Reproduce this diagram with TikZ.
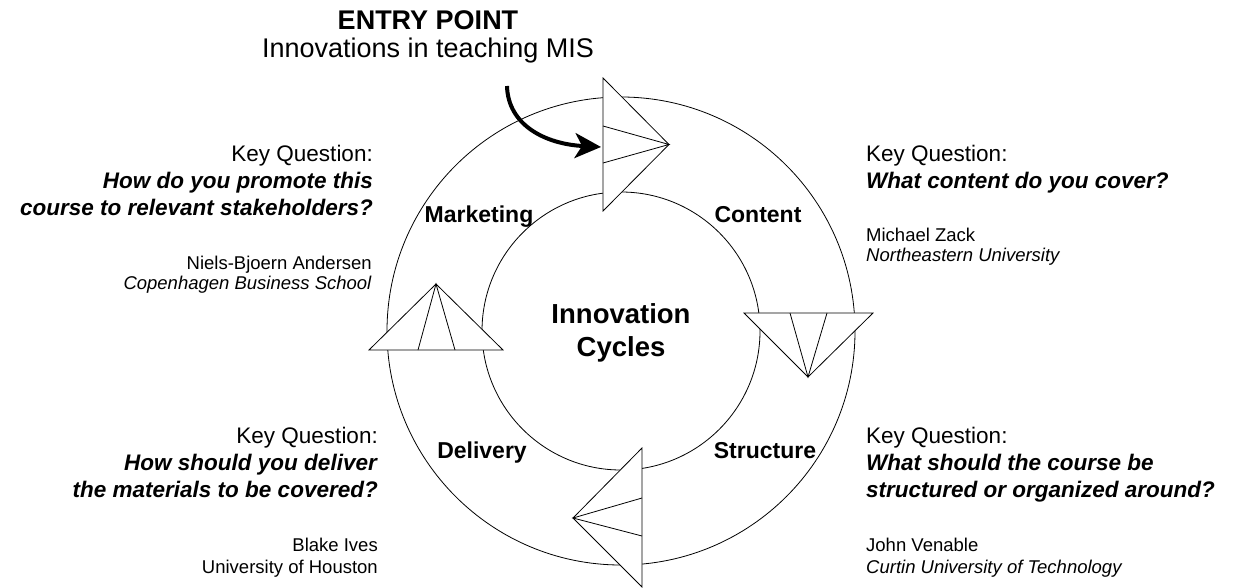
\documentclass[tikz,border=0pt]{standalone}
\usepackage{fontspec}
\setmainfont{Liberation Sans}
\usetikzlibrary{arrows.meta}
\tikzstyle{keyText}=[inner sep = 0pt, font = \fontsize{22.5}{27}\selectfont]
\tikzstyle{nameText}=[inner sep = 0pt, font = \fontsize{18.5}{19.5}\selectfont]
\tikzstyle{phaseText}=[inner sep = 0pt, font = \fontsize{23}{27}\selectfont\bfseries]
\tikzstyle{titleText}=[inner sep = 0pt, align = center, font = \fontsize{27}{28}\selectfont]

\begin{document}
\begin{tikzpicture}[x = 1pt, y = -1pt]
\tikzstyle{ringStyle}=[line width = 0.8pt]
\tikzstyle{headStyle}=[draw, line width = 0.8pt, fill = white]
\tikzstyle{innerStyle}=[line width = 0.8pt]
\tikzstyle{entryStyle}=[line width = 4pt, -{Stealth[length = 26pt, width = 25pt, inset = 7pt]}]
\useasboundingbox (0,0) rectangle (1233,588);
\coordinate (hub) at (621,331);
\draw[ringStyle] (hub) circle [radius = 234pt];
\draw[ringStyle] (hub) circle [radius = 139pt];
\draw[headStyle] (603,78) -- (669,144.5) -- (603,211) -- cycle;
\draw[innerStyle] (603,126) -- (669,144.5) -- (603,163);
\draw[headStyle] (744,313) -- (808,377) -- (873,313) -- cycle;
\draw[innerStyle] (790,313) -- (808,377) -- (827,313);
\draw[headStyle] (642,448) -- (573,518) -- (642,587) -- cycle;
\draw[innerStyle] (642,498) -- (573,518) -- (642,536);
\draw[headStyle] (369,350) -- (436,284) -- (503,350) -- cycle;
\draw[innerStyle] (418,350) -- (436,284) -- (455,350);
\node[titleText, anchor = north] (entry) at (428,10) {\textbf{ENTRY POINT}\\Innovations in teaching MIS};
\coordinate (entryStart) at (507,86);
\coordinate (entryEnd) at (601,147);
\draw[entryStyle] (entryStart) .. controls (508,125) and (545,144) .. (entryEnd);
\node[titleText, font = \fontsize{27.5}{33.5}\selectfont\bfseries] (cycles) at (621,333) {Innovation\\Cycles};
\node[phaseText, anchor = base] (pMarketing) at (479,222) {Marketing};
\node[phaseText, anchor = base] (pContent) at (758,222) {Content};
\node[phaseText, anchor = base] (pDelivery) at (482,458) {Delivery};
\node[phaseText, anchor = base] (pStructure) at (765,458) {Structure};
\node[keyText, anchor = north east, align = right] (qMarketing) at (373,145) {Key Question:\\\textbf{\textit{How do you promote this}}\\\textbf{\textit{course to relevant stakeholders?}}};
\node[keyText, anchor = north west, align = left] (qContent) at (866,145) {Key Question:\\\textbf{\textit{What content do you cover?}}};
\node[keyText, anchor = north east, align = right] (qDelivery) at (378,427) {Key Question:\\\textbf{\textit{How should you deliver}}\\\textbf{\textit{the materials to be covered?}}};
\node[keyText, anchor = north west, align = left] (qStructure) at (866,427) {Key Question:\\\textbf{\textit{What should the course be}}\\\textbf{\textit{structured or organized around?}}};
\node[nameText, anchor = north east, align = right] (nMarketing) at (372,256) {Niels-Bjoern Andersen\\\textit{Copenhagen Business School}};
\node[nameText, anchor = north west, align = left] (nContent) at (866,228) {Michael Zack\\\textit{Northeastern University}};
\node[nameText, anchor = north east, align = right, font = \fontsize{18.5}{22}\selectfont] (nDelivery) at (378,538) {Blake Ives\\University of Houston};
\node[nameText, anchor = north west, align = left, font = \fontsize{18.5}{22}\selectfont] (nStructure) at (866,538) {John Venable\\\textit{Curtin University of Technology}};
%
\end{tikzpicture}
\end{document}
